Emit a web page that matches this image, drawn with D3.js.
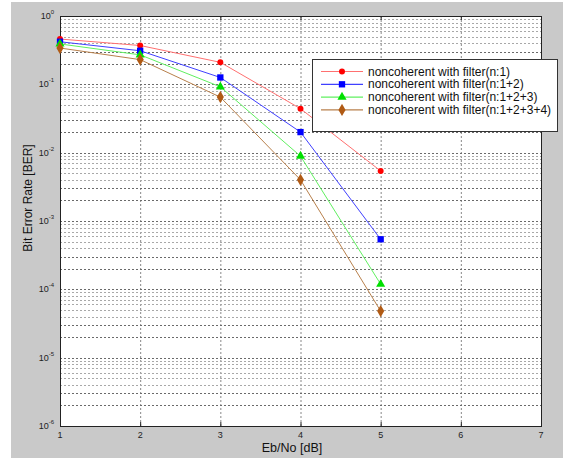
<!DOCTYPE html>
<html>
<head>
<meta charset="utf-8">
<script src="https://cdn.jsdelivr.net/npm/d3@7"></script>
<style>
  body { margin: 0; background: #fff; }
  svg { display: block; font-family: "Liberation Sans", Arial, sans-serif; }
</style>
</head>
<body>
<svg id="chart" width="563" height="458"></svg>
<script>
// Eb/No values (dB)
var ebno = [1, 2, 3, 4, 5];
// BER
var berN1 = [0.46, 0.37, 0.21, 0.044, 0.0054];
var berN12 = [0.42, 0.31, 0.126, 0.020, 0.00054];
var berN123 = [0.39, 0.27, 0.092, 0.0089, 0.000119];
var berN1234 = [0.34, 0.23, 0.065, 0.0040, 0.000048];
var seriesNames = ["noncoherent with filter(n:1)", "noncoherent with filter(n:1+2)",
                   "noncoherent with filter(n:1+2+3)", "noncoherent with filter(n:1+2+3+4)"];
var xTicks = [1, 2, 3, 4, 5, 6, 7];
var yExponents = [0, -1, -2, -3, -4, -5, -6];

var svg = d3.select("#chart");
var margin = {left: 60, top: 16, right: 22, bottom: 32};
var plotW = 541 - margin.left, plotH = 426 - margin.top;

// figure background
svg.append("rect").attr("x", 11).attr("y", 2).attr("width", 552).attr("height", 456).attr("fill", "#c9c9c9");

var x = d3.scaleLinear().domain([1, 7]).range([margin.left, margin.left + plotW]);
var y = d3.scaleLog().domain([1e-6, 1]).range([margin.top + plotH, margin.top]);

svg.append("rect")
    .attr("x", x(1)).attr("y", y(1))
    .attr("width", plotW).attr("height", plotH)
    .attr("fill", "#fff");

// grid
var grid = svg.append("g").attr("stroke-width", 1).attr("stroke-dasharray", "2,2");
xTicks.slice(1, -1).forEach(function(t) {
  grid.append("line").attr("x1", x(t) + 0.5).attr("x2", x(t) + 0.5)
      .attr("y1", y(1)).attr("y2", y(1e-6)).attr("stroke", "#888");
});
var yGrid = [];
for (var k = -6; k < 0; k++) {
  for (var m = 2; m <= 9; m++) yGrid.push(m * Math.pow(10, k));
  if (k > -6) yGrid.push(Math.pow(10, k));
}
yGrid.forEach(function(v) {
  var mant = Math.round(v / Math.pow(10, Math.floor(Math.log10(v) + 1e-9)));
  grid.append("line").attr("x1", x(1)).attr("x2", x(7))
      .attr("y1", Math.round(y(v)) + 0.5).attr("y2", Math.round(y(v)) + 0.5)
      .attr("stroke", mant <= 3 ? "#6a6a6a" : "#a8a8a8");
});

// frame and ticks
svg.append("rect").attr("x", x(1) + 0.5).attr("y", y(1) + 0.5)
    .attr("width", plotW).attr("height", plotH)
    .attr("fill", "none").attr("stroke", "#222").attr("stroke-width", 1);
var ticks = svg.append("g").attr("stroke", "#222");
xTicks.forEach(function(t) {
  ticks.append("line").attr("x1", x(t) + 0.5).attr("x2", x(t) + 0.5).attr("y1", y(1e-6)).attr("y2", y(1e-6) - 4);
  ticks.append("line").attr("x1", x(t) + 0.5).attr("x2", x(t) + 0.5).attr("y1", y(1)).attr("y2", y(1) + 4);
});

// tick labels
svg.append("g").selectAll("text").data(xTicks).enter().append("text")
    .attr("x", function(d) { return x(d); })
    .attr("y", y(1e-6) + 12)
    .attr("text-anchor", "middle")
    .attr("font-size", 9).attr("fill", "#222")
    .text(function(d) { return d; });

var yl = svg.append("g").selectAll("text").data(yExponents).enter().append("text")
    .attr("x", x(1) - 6)
    .attr("y", function(d) { return y(Math.pow(10, d)) + 3; })
    .attr("text-anchor", "end")
    .attr("font-size", 9).attr("fill", "#222");
yl.append("tspan").text("10");
yl.append("tspan").attr("dy", -5).attr("font-size", 6).text(function(d) { return d; });

// axis labels
svg.append("text").attr("x", 292).attr("y", 452).attr("text-anchor", "middle")
    .attr("font-size", 12.5).attr("fill", "#111").text("Eb/No [dB]");
svg.append("text").attr("transform", "translate(32,198) rotate(-90)").attr("text-anchor", "middle")
    .attr("font-size", 12).attr("fill", "#111").text("Bit Error Rate [BER]");

// series
var series = [
  {name: seriesNames[0], values: berN1, line: "#ff7070", color: "#ff0000", symbol: d3.symbolCircle, size: 28},
  {name: seriesNames[1], values: berN12, line: "#4040ff", color: "#0000ff", symbol: d3.symbolSquare, size: 40},
  {name: seriesNames[2], values: berN123, line: "#60f060", color: "#00e000", symbol: d3.symbolTriangle, size: 36},
  {name: seriesNames[3], values: berN1234, line: "#b8804c", color: "#b05a14", symbol: d3.symbolDiamond, size: 44}
];

var line = d3.line()
    .x(function(d, i) { return x(ebno[i]); })
    .y(function(d) { return y(d); });

series.forEach(function(s) {
  svg.append("path").datum(s.values)
      .attr("d", line).attr("fill", "none")
      .attr("stroke", s.line).attr("stroke-width", 1);
  svg.append("g").selectAll("path").data(s.values).enter().append("path")
      .attr("d", d3.symbol().type(s.symbol).size(s.size))
      .attr("transform", function(d, i) { return "translate(" + x(ebno[i]) + "," + y(d) + ")"; })
      .attr("fill", s.color);
});

// legend
var legend = svg.append("g").attr("transform", "translate(312,59)");
legend.append("rect").attr("x", 0.5).attr("y", 0.5).attr("width", 245).attr("height", 72)
    .attr("fill", "#fff").attr("stroke", "#333");
series.forEach(function(s, i) {
  var ly = 12.5 + i * 12.8;
  legend.append("line").attr("x1", 9).attr("x2", 51).attr("y1", ly).attr("y2", ly)
      .attr("stroke", s.line).attr("stroke-width", 1.2);
  legend.append("path").attr("d", d3.symbol().type(s.symbol).size(s.size))
      .attr("transform", "translate(30," + ly + ")").attr("fill", s.color);
  legend.append("text").attr("x", 56).attr("y", ly + 4)
      .attr("font-size", 12).attr("fill", "#111").text(s.name);
});
</script>
</body>
</html>
